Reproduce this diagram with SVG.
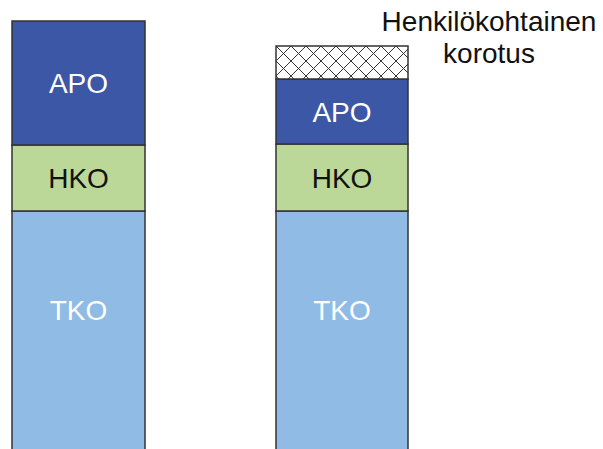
<svg xmlns="http://www.w3.org/2000/svg" width="603" height="449" viewBox="0 0 603 449">
<style>
.bar{stroke:#333;stroke-width:1.5}
.apo{fill:#3B57A6}
.hko{fill:#BBD899}
.tko{fill:#8FBBE4}
text{font-family:"Liberation Sans",Arial,sans-serif;font-size:28px;text-anchor:middle}
.w{fill:#fff}
.k{fill:#111}
</style>
<defs>
<pattern id="hatch" patternUnits="userSpaceOnUse" x="276" y="46" width="15" height="15">
<rect width="15" height="15" fill="#fff"/>
<path d="M0,0L15,15M15,0L0,15" stroke="#333" stroke-width="1"/>
</pattern>
</defs>
<g id="left">
<g id="left-tko"><rect class="bar tko" x="12" y="211" width="133" height="240"/><text class="w" x="78.5" y="320">TKO</text></g>
<g id="left-hko"><rect class="bar hko" x="12" y="145" width="133" height="66"/><text class="k" x="78.5" y="188">HKO</text></g>
<g id="left-apo"><rect class="bar apo" x="12" y="21" width="133" height="124"/><text class="w" x="78.5" y="93">APO</text></g>
</g>
<g id="right">
<g id="right-tko"><rect class="bar tko" x="276" y="211" width="132" height="240"/><text class="w" x="342" y="320">TKO</text></g>
<g id="right-hko"><rect class="bar hko" x="276" y="144" width="132" height="67"/><text class="k" x="342" y="188">HKO</text></g>
<g id="right-apo"><rect class="bar apo" x="276" y="79" width="132" height="65"/><text class="w" x="342" y="122">APO</text></g>
<g id="right-korotus"><rect class="bar" fill="url(#hatch)" x="276" y="46" width="132" height="33"/></g>
</g>
<g id="label"><text class="k" x="489" y="31">Henkilökohtainen</text><text class="k" x="489" y="63">korotus</text></g>
<g id="connectors"/>
</svg>
